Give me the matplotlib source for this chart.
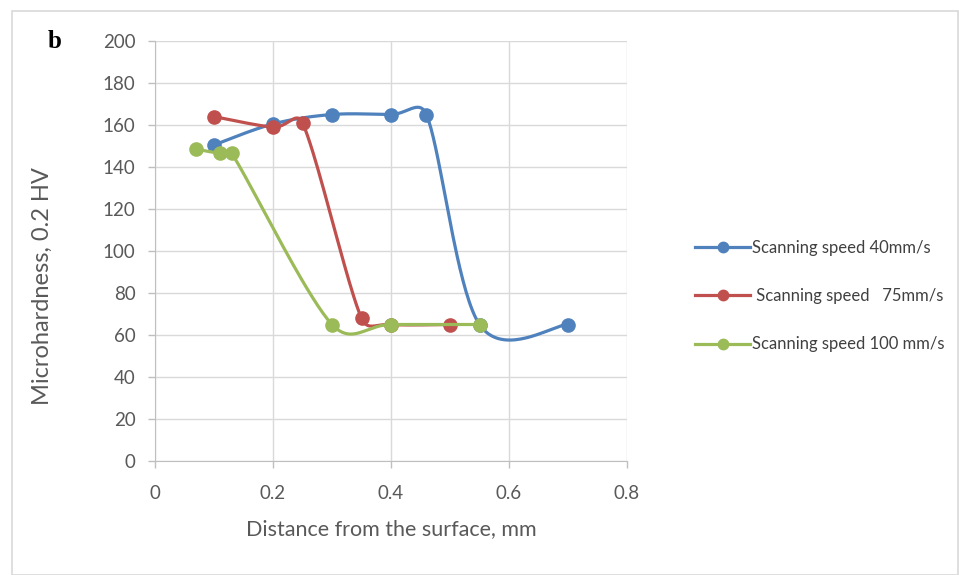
import numpy as np
import matplotlib
matplotlib.use('Agg')
import matplotlib.pyplot as plt
from matplotlib.lines import Line2D
from matplotlib.patches import Rectangle

# Data
x_40 = [0.10, 0.20, 0.30, 0.40, 0.46, 0.55, 0.70]
y_40 = [150.5, 160.5, 165, 165, 165, 65, 65]

x_75 = [0.10, 0.20, 0.25, 0.35, 0.40, 0.50]
y_75 = [164, 159, 161, 68, 65, 65]

x_100 = [0.07, 0.11, 0.13, 0.30, 0.40, 0.55]
y_100 = [148.5, 146.5, 146.5, 65, 65, 65]

labels = ['Scanning speed 40mm/s', ' Scanning speed   75mm/s', 'Scanning speed 100 mm/s']
colors = ['#4F81BD', '#C0504D', '#9BBB59']

plt.rcParams['font.family'] = ['Lato', 'DejaVu Sans']


def smooth(xs, ys, sx=590.0, sy=2.1, n=40):
    # Excel-like smoothed line: Catmull-Rom Bezier in screen units,
    # control arms clamped to half the segment length
    p = np.column_stack([np.array(xs) * sx, np.array(ys) * sy])
    out = [p[0]]
    for i in range(len(p) - 1):
        p0 = p[i - 1] if i > 0 else p[i]
        p1 = p[i]
        p2 = p[i + 1]
        p3 = p[i + 2] if i + 2 < len(p) else p[i + 1]
        seg = np.hypot(*(p2 - p1))
        a1 = (p2 - p0) / 6.0
        a2 = (p3 - p1) / 6.0
        for a in (a1, a2):
            la = np.hypot(*a)
            if la > 0.5 * seg:
                a *= 0.5 * seg / la
        c1 = p1 + a1
        c2 = p2 - a2
        t = np.linspace(0, 1, n)[1:, None]
        b = ((1 - t) ** 3) * p1 + 3 * ((1 - t) ** 2) * t * c1 + 3 * (1 - t) * t ** 2 * c2 + t ** 3 * p2
        out.extend(b)
    out = np.array(out)
    return out[:, 0] / sx, out[:, 1] / sy


fig = plt.figure(figsize=(9.59, 5.75), dpi=100)
fig.patches.append(Rectangle((12 / 959, 0), 946 / 959, 1 - 11 / 575, transform=fig.transFigure,
                             fill=False, edgecolor='#d9d9d9', linewidth=1.2))
ax = fig.add_axes([155 / 959, 1 - 461 / 575, 472 / 959, 420 / 575])

series = [(x_40, y_40), (x_75, y_75), (x_100, y_100)]
for (xs, ys), c in zip(series, colors):
    sxs, sys_ = smooth(xs, ys)
    ax.plot(sxs, sys_, color=c, lw=2.3, solid_capstyle='round')
    ax.plot(xs, ys, 'o', color=c, markersize=9.5, linestyle='none')

ax.set_xlim(0, 0.8)
ax.set_ylim(0, 200)
ax.set_xticks(np.arange(0, 0.81, 0.2))
ax.set_xticklabels(['0', '0.2', '0.4', '0.6', '0.8'])
ax.set_yticks(np.arange(0, 201, 20))
ax.grid(True, color='#d9d9d9', lw=1)
ax.set_axisbelow(True)
for s in ['top', 'right']:
    ax.spines[s].set_visible(False)
for s in ['left', 'bottom']:
    ax.spines[s].set_color('#bfbfbf')
ax.tick_params(colors='#595959', labelsize=13.5, length=5, width=1)
ax.tick_params(axis='both', color='#bfbfbf')
ax.tick_params(axis='x', pad=12)
ax.tick_params(axis='y', pad=9)

ax.set_xlabel('Distance from the surface, mm', fontsize=15.5, color='#595959')
ax.xaxis.set_label_coords(0.5, -(519 - 461) / 420)
ax.set_ylabel('Microhardness, 0.2 HV', fontsize=17, color='#595959')
ax.yaxis.set_label_coords((53 - 155) / 472, (461 - 286) / 420)

fig.text(48 / 959, 1 - 42 / 575, 'b', fontsize=18, fontweight='bold',
         family='Liberation Serif', va='center', ha='left')

handles = [Line2D([], [], color=c, lw=2.3, marker='o', markersize=7.5) for c in colors]
fig.legend(handles, labels, loc='center left', bbox_to_anchor=(680 / 959, 1 - 296 / 575),
           frameon=False, fontsize=12, handlelength=3.3, handletextpad=0.15,
           labelspacing=1.95, labelcolor='#404040')

fig.savefig('out.png', dpi=100)
